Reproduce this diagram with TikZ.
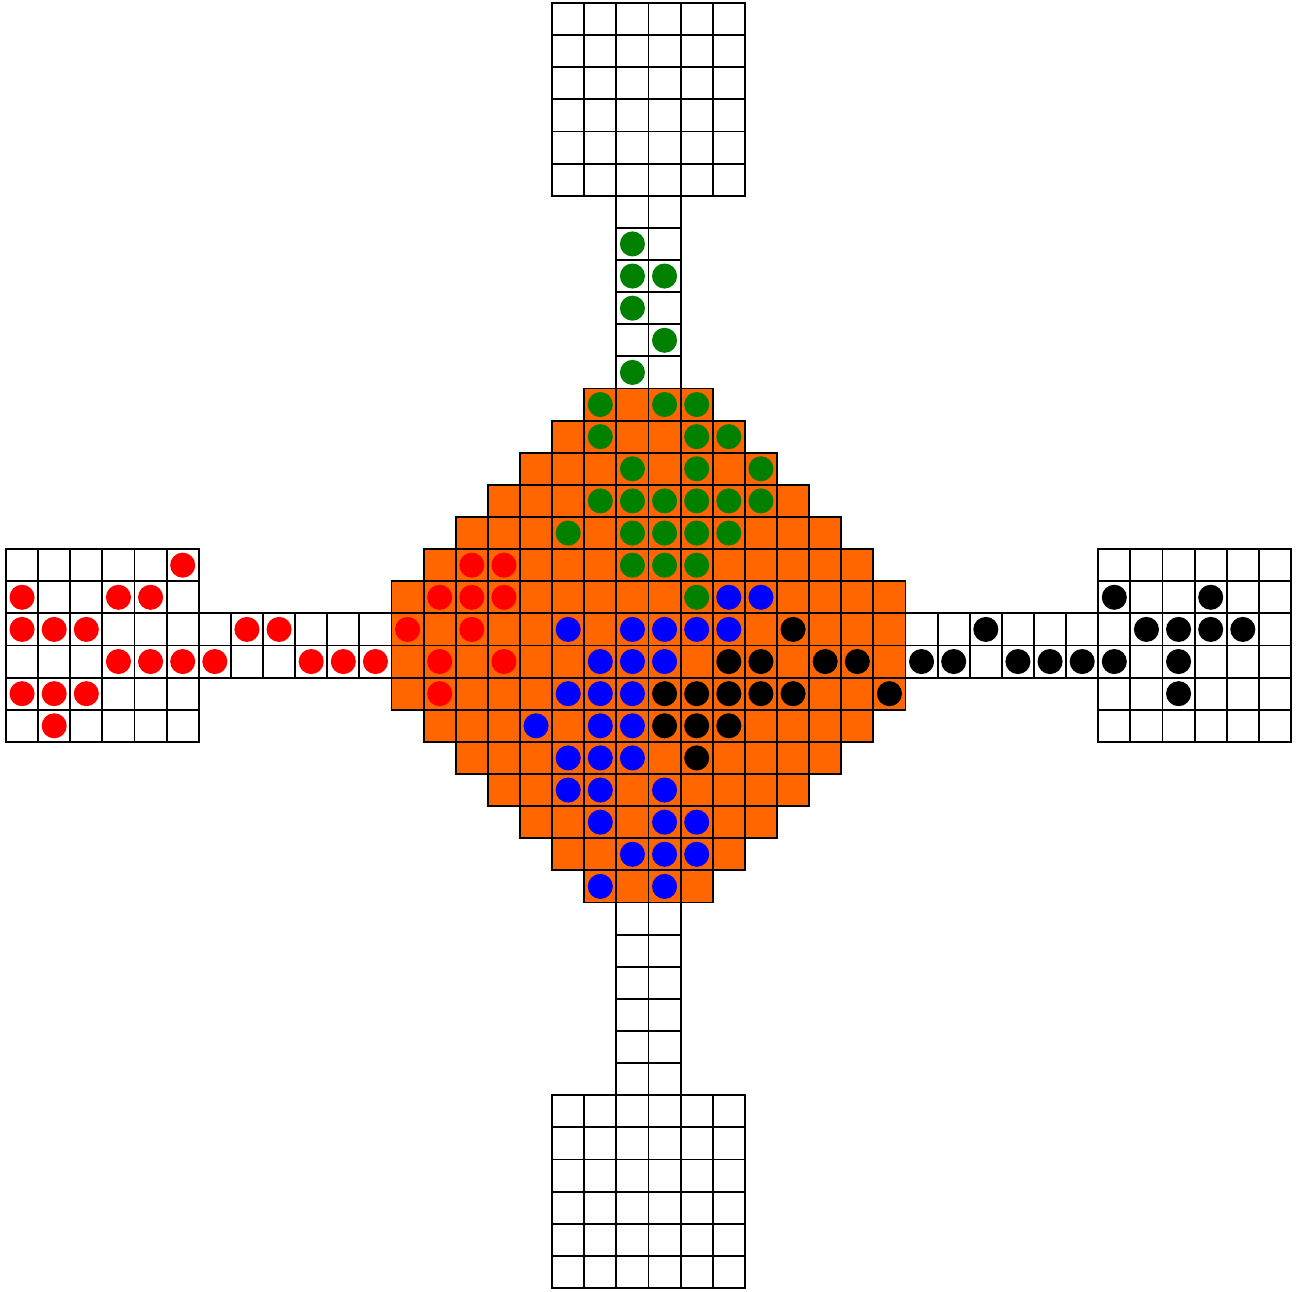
\documentclass[tikz,border=0pt]{standalone}

\definecolor{boardcolor}{RGB}{255,102,0}
\definecolor{greencolor}{RGB}{0,128,0}
\definecolor{redcolor}{RGB}{255,0,0}
\definecolor{bluecolor}{RGB}{0,0,255}

\begin{document}
\begin{tikzpicture}[
    x=0.5cm, y=-0.5cm,
    %% Board is 40 x 40 cells: column c = 0..39 (left to right), row r = 0..39 (top to bottom)
    %% Cell (c,r) spans c..c+1 and r..r+1; a piece sits at (c+0.5, r+0.5)
    cellsq/.style={draw=black, line width=0.8pt},
    wcell/.style={cellsq, fill=white},
    ocell/.style={cellsq, fill=boardcolor},
    gpiece/.style={fill=greencolor},
    rpiece/.style={fill=redcolor},
    bpiece/.style={fill=bluecolor},
    kpiece/.style={fill=black},
]

\useasboundingbox (-0.187,-0.093) rectangle (40.56,40.1);

%% ── Central diamond (rows 12..27) ───────────────────────────────────────
\foreach \r/\a/\b in {12/18/21, 13/17/22, 14/16/23, 15/15/24, 16/14/25, 17/13/26,
                      18/12/27, 19/12/27, 20/12/27, 21/12/27,
                      22/13/26, 23/14/25, 24/15/24, 25/16/23, 26/17/22, 27/18/21}
    \foreach \c in {\a,...,\b}
        \draw[ocell] (\c,\r) rectangle ++(1,1);

%% ── Corridors (2 cells wide, 6 long) ────────────────────────────────────
\foreach \c in {19,20} \foreach \r in {6,...,11}  \draw[wcell] (\c,\r) rectangle ++(1,1);
\foreach \c in {19,20} \foreach \r in {28,...,33} \draw[wcell] (\c,\r) rectangle ++(1,1);
\foreach \c in {6,...,11}  \foreach \r in {19,20} \draw[wcell] (\c,\r) rectangle ++(1,1);
\foreach \c in {28,...,33} \foreach \r in {19,20} \draw[wcell] (\c,\r) rectangle ++(1,1);

%% ── Home boxes (6 x 6) ──────────────────────────────────────────────────
\foreach \c in {17,...,22} \foreach \r in {0,...,5}   \draw[wcell] (\c,\r) rectangle ++(1,1);
\foreach \c in {17,...,22} \foreach \r in {34,...,39} \draw[wcell] (\c,\r) rectangle ++(1,1);
\foreach \c in {0,...,5}   \foreach \r in {17,...,22} \draw[wcell] (\c,\r) rectangle ++(1,1);
\foreach \c in {34,...,39} \foreach \r in {17,...,22} \draw[wcell] (\c,\r) rectangle ++(1,1);

%% ── Green pieces ────────────────────────────────────────────────────────
\foreach \c/\r in {19/7, 19/8, 20/8, 19/9, 20/10, 19/11,
                   18/12, 20/12, 21/12, 18/13, 21/13, 22/13,
                   19/14, 21/14, 23/14, 18/15, 19/15, 20/15, 21/15, 22/15, 23/15,
                   17/16, 19/16, 20/16, 21/16, 22/16, 19/17, 20/17, 21/17, 21/18}
    \fill[gpiece] (\c+0.5,\r+0.5) circle[radius=0.39];

%% ── Red pieces ──────────────────────────────────────────────────────────
\foreach \c/\r in {5/17, 0/18, 3/18, 4/18, 0/19, 1/19, 2/19, 7/19, 8/19, 12/19,
                   3/20, 4/20, 5/20, 6/20, 9/20, 10/20, 11/20, 13/20, 15/20,
                   0/21, 1/21, 2/21, 13/21, 1/22,
                   14/17, 15/17, 13/18, 14/18, 15/18, 14/19}
    \fill[rpiece] (\c+0.5,\r+0.5) circle[radius=0.39];

%% ── Blue pieces ─────────────────────────────────────────────────────────
\foreach \c/\r in {22/18, 23/18, 17/19, 19/19, 20/19, 21/19, 22/19,
                   18/20, 19/20, 20/20, 17/21, 18/21, 19/21,
                   16/22, 18/22, 19/22, 17/23, 18/23, 19/23,
                   17/24, 18/24, 20/24, 18/25, 20/25, 21/25,
                   19/26, 20/26, 21/26, 18/27, 20/27}
    \fill[bpiece] (\c+0.5,\r+0.5) circle[radius=0.39];

%% ── Black pieces ────────────────────────────────────────────────────────
\foreach \c/\r in {34/18, 37/18, 24/19, 30/19, 35/19, 36/19, 37/19, 38/19,
                   22/20, 23/20, 25/20, 26/20, 28/20, 29/20, 31/20, 32/20, 33/20, 34/20, 36/20,
                   20/21, 21/21, 22/21, 23/21, 24/21, 27/21, 36/21,
                   20/22, 21/22, 22/22, 21/23}
    \fill[kpiece] (\c+0.5,\r+0.5) circle[radius=0.39];

\end{tikzpicture}
\end{document}
